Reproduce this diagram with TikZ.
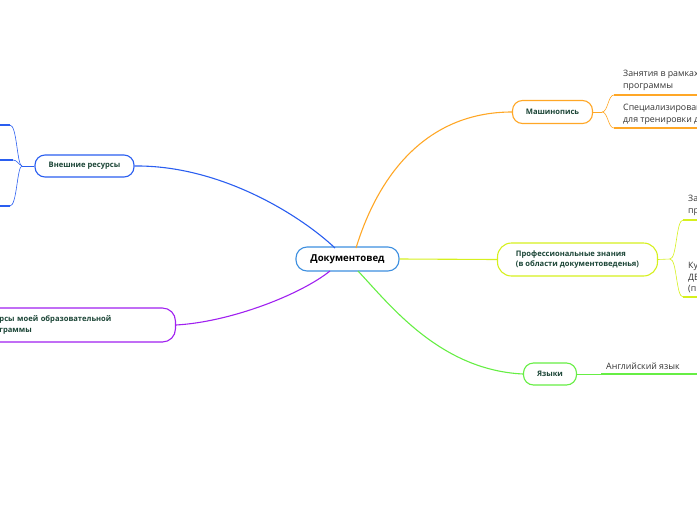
\documentclass[tikz,border=0pt]{standalone}
\usepackage{fontspec}
\setmainfont{Open Sans}
\definecolor{tgreen}{HTML}{1B4536}
\definecolor{subtext}{HTML}{333333}
\definecolor{cblue}{HTML}{3D8FE0}
\definecolor{eblue}{HTML}{2A5EF0}
\definecolor{corange}{HTML}{FFA726}
\definecolor{cyellow}{HTML}{D6F01E}
\definecolor{cgreen}{HTML}{66EE44}
\definecolor{cpurple}{HTML}{A020F0}
\begin{document}
\begin{tikzpicture}[x=1pt,y=-1pt,
  topic/.style={draw, rounded corners=10pt, line width=1.1pt, fill=white, text=tgreen,
    font=\bfseries\fontsize{7.6}{10.5}\selectfont, inner sep=0pt, align=center},
  central/.style={draw=cblue, rounded corners=11pt, line width=1.1pt, fill=white, text=black,
    font=\bfseries\fontsize{9.6}{12}\selectfont, inner sep=0pt, minimum width=103, minimum height=24},
  subtxt/.style={anchor=west, text=subtext, font=\fontsize{8.8}{11.5}\selectfont, inner sep=0pt, align=left},
  conn/.style={line width=1.1pt},
  subconn/.style={line width=0.6pt},
  uline/.style={line width=1.8pt}]
\useasboundingbox (0,0) rectangle (697,520);
\clip (0,0) rectangle (697,520);
% central
\node[central] (c) at (347.5,259) {Документовед};
% topics
\node[topic, draw=eblue, minimum width=99, minimum height=22] (ext) at (84.5,166) {Внешние ресурсы};
\node[topic, draw=cpurple, anchor=east, minimum height=34, text width=156, align=left, inner xsep=20pt, rounded corners=13pt] (res) at (176,325) {рсы моей образовательной\\граммы};
\node[topic, draw=corange, minimum width=80, minimum height=23] (mash) at (552.5,112) {Машинопись};
\node[topic, draw=cyellow, minimum width=160, minimum height=33, align=left, rounded corners=14pt] (prof) at (577.5,259.5) {Профессиональные знания\\(в области документоведенья)};
\node[topic, draw=cgreen, minimum width=53, minimum height=22] (lang) at (550,374) {Языки};
% main connectors
\coordinate (cb) at (335,248);
\coordinate (co) at (356,248);
\coordinate (cp) at (330,271);
\coordinate (cg) at (358,271);
\draw[conn, eblue] (cb) .. controls (300,215) and (220,165) .. (ext.east);
\draw[conn, corange] (co) .. controls (380,170) and (430,112) .. (mash.west);
\draw[conn, cpurple] (cp) .. controls (300,295) and (230,322) .. (res.east);
\draw[conn, cgreen] (cg) .. controls (390,305) and (440,370) .. (lang.west);
\draw[conn, cyellow] (c.east) -- (prof.west);
% Внешние ресурсы subtopics
\coordinate (e1) at (10,125);
\coordinate (e2) at (13,160);
\coordinate (e3) at (10,206);
\coordinate (ej) at (22,166);
\draw[uline, eblue] (e1) -- (0,125);
\draw[uline, eblue] (e2) -- (0,160);
\draw[uline, eblue] (e3) -- (0,206);
\draw[subconn, eblue] (ext.west) -- (ej);
\draw[subconn, eblue] (ej) .. controls (17,166) and (17,125) .. (e1);
\draw[subconn, eblue] (ej) .. controls (18,164) and (17,160) .. (e2);
\draw[subconn, eblue] (ej) .. controls (17,166) and (17,206) .. (e3);
% Машинопись subtopics
\coordinate (mj) at (602,112);
\coordinate (m1) at (614,95);
\coordinate (m2) at (614,128);
\node[subtxt] (mt1) at (623,80.5) {Занятия в рамках\\программы};
\node[subtxt] (mt2) at (623,114.5) {Специализирован\\для тренировки д};
\draw[uline, corange] (m1) -- (697,95);
\draw[uline, corange] (m2) -- (697,128);
\draw[subconn, corange] (mash.east) -- (mj);
\draw[subconn, corange] (mj) .. controls (608,112) and (608,95) .. (m1);
\draw[subconn, corange] (mj) .. controls (608,112) and (608,128) .. (m2);
% Профессиональные subtopics
\coordinate (pj) at (670,259);
\coordinate (p1) at (683,220);
\coordinate (p2) at (683,297);
\node[subtxt] (pt1) at (688,205.5) {За\\пр};
\node[subtxt] (pt2) at (688,278) {Ку\\ДЕ\\(п};
\draw[uline, cyellow] (p1) -- (697,220);
\draw[uline, cyellow] (p2) -- (697,297);
\draw[subconn, cyellow] (prof.east) -- (pj);
\draw[subconn, cyellow] (pj) .. controls (677,259) and (676,220) .. (p1);
\draw[subconn, cyellow] (pj) .. controls (677,259) and (676,297) .. (p2);
% Языки subtopic
\coordinate (l1) at (601,374);
\node[subtxt] (lt1) at (606,366) {Английский язык};
\draw[uline, cgreen] (l1) -- (697,374);
\draw[subconn, cgreen] (lang.east) -- (l1);
\end{tikzpicture}
\end{document}
